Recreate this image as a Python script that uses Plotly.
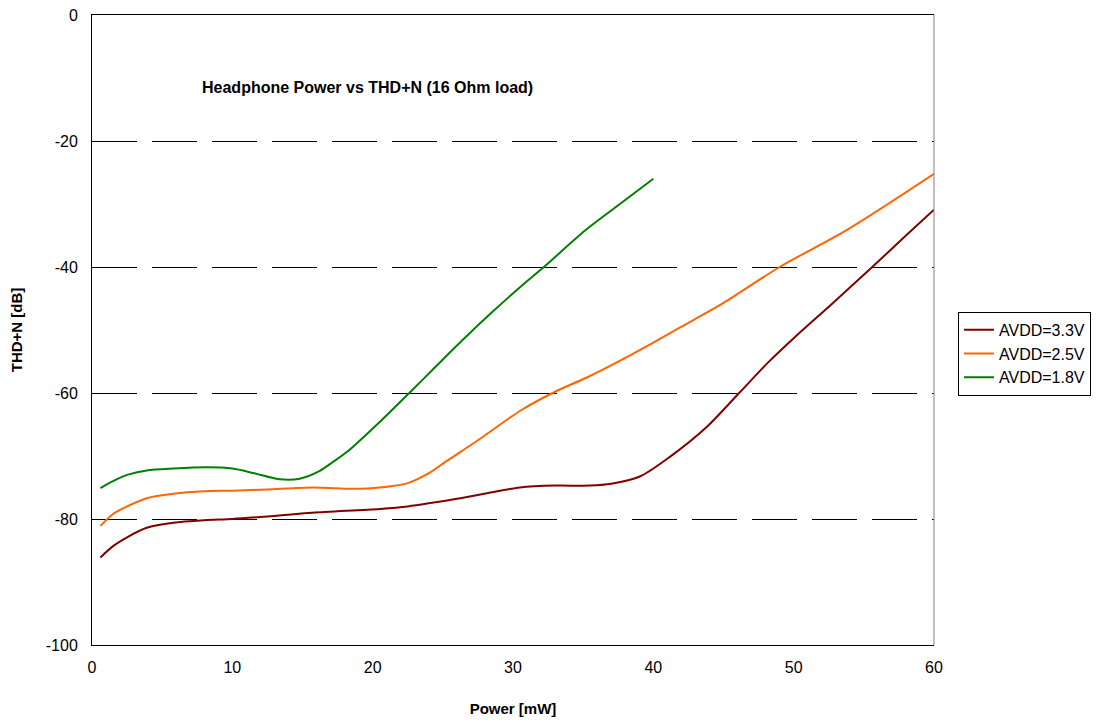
import plotly.graph_objects as go

# AVDD = 3.3V
power_33 = [0.6, 1.5, 2.5, 3.9, 5.8, 8, 10, 12.5, 15.7, 20.5, 22.5, 26, 30.5, 33, 35.5, 37,
            39, 41.2, 43.8, 46.2, 48.2, 50, 52.8, 55.6, 58, 60]
thd_33 = [-86.1, -84.3, -82.9, -81.4, -80.6, -80.2, -80.0, -79.6, -79.0, -78.4, -78.0, -76.8,
          -75.0, -74.7, -74.7, -74.4, -73.3, -70.1, -65.4, -59.8, -55.1, -51.3,
          -45.7, -40.0, -35.0, -30.9]

# AVDD = 2.5V
power_25 = [0.6, 1.5, 2.5, 3.9, 5.8, 8, 10, 12.5, 15.8, 18.6, 20.5, 22.5, 24.1, 25.2, 27.5,
            30.6, 33, 35.3, 37.6, 40, 41.9, 45, 49, 53.8, 60]
thd_25 = [-81.1, -79.2, -78.0, -76.7, -76.0, -75.6, -75.5, -75.3, -75.0, -75.2, -75.0, -74.3,
          -72.6, -70.9, -67.5, -62.7, -59.8, -57.5, -54.9, -52.0, -49.6, -45.7, -40.0, -34.1,
          -25.2]

# AVDD = 1.8V
power_18 = [0.6, 1.5, 2.5, 3.9, 5.8, 8.2, 10, 11.5, 13.4, 14.8, 16.2, 17.2, 18.2, 20.5, 22.7,
            24.5, 26.5, 28.5, 30.6, 32.1, 35.2, 37.5, 40]
thd_18 = [-75.1, -74.0, -73.0, -72.3, -72.0, -71.8, -72.0, -72.7, -73.7, -73.6, -72.4, -70.9,
          -69.3, -64.6, -59.8, -55.8, -51.4, -47.2, -43.0, -40.2, -34.1, -30.2, -26.0]

series = [
    ('AVDD=3.3V', power_33, thd_33, '#800000'),
    ('AVDD=2.5V', power_25, thd_25, '#FF6600'),
    ('AVDD=1.8V', power_18, thd_18, '#008000'),
]

x_ticks = [0, 10, 20, 30, 40, 50, 60]
y_ticks = [0, -20, -40, -60, -80, -100]
y_tick_labels = ['0', '-20', '-40', '-60', '-80', '-100']

fig = go.Figure()

for naam, x, y, kleur in series:
    fig.add_trace(
        go.Scatter(
            x=x,
            y=y,
            mode='lines',
            name=naam,
            line=dict(color=kleur, width=2, shape='spline', smoothing=0.8),
        )
    )

fig.add_annotation(
    text='<b>Headphone Power vs THD+N (16 Ohm load)</b>',
    xref='paper', yref='paper',
    x=0.128, y=0.885,
    xanchor='left', yanchor='middle',
    showarrow=False,
    font=dict(size=16, color='black'),
)

# rechterrand grijs
fig.add_shape(
    type='line', xref='paper', yref='paper',
    x0=1, x1=1, y0=0, y1=1,
    line=dict(color='#808080', width=1),
)

fig.update_layout(
    width=1107,
    height=724,
    paper_bgcolor='white',
    plot_bgcolor='white',
    font=dict(family='Liberation Sans, Arial, sans-serif', size=16, color='black'),
    margin=dict(t=7, r=181, b=87, l=84, autoexpand=False),
    showlegend=True,
    legend=dict(
        x=1.0285, y=0.529,
        xanchor='left', yanchor='top',
        bordercolor='black', borderwidth=1,
        bgcolor='white',
        font=dict(size=16),
        itemwidth=30,
        tracegroupgap=0,
    ),
    xaxis=dict(
        range=[0, 60],
        tickvals=x_ticks,
        showgrid=False,
        zeroline=False,
        showline=True,
        linecolor='black',
        linewidth=1,
        mirror=True,
        ticks='',
        automargin=False,
        ticklabeloverflow='allow',
        ticklabelstandoff=8,
        title=dict(text='<b>Power [mW]</b>', font=dict(size=15), standoff=28),
    ),
    yaxis=dict(
        range=[-100, 0],
        tickvals=y_ticks,
        ticktext=y_tick_labels,
        showgrid=True,
        gridcolor='black',
        gridwidth=1,
        griddash='45px,15px',
        zeroline=False,
        showline=True,
        linecolor='black',
        linewidth=1,
        ticks='',
        automargin=False,
        ticklabeloverflow='allow',
        ticklabelstandoff=10,
        title=dict(text='<b>THD+N [dB]</b>', font=dict(size=15), standoff=28),
    ),
)

fig.write_html("out.html")
